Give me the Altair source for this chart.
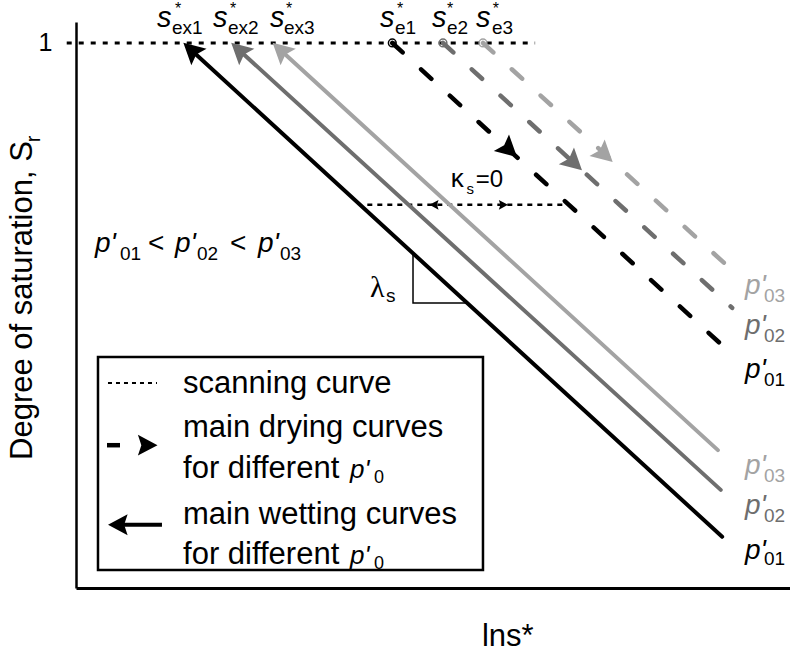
import altair as alt
import pandas as pd

BLACK, DARK, LIGHT = "#000000", "#6e6e6e", "#a3a3a3"
SERIES = ["p01", "p02", "p03"]
SERIES_COLORS = [BLACK, DARK, LIGHT]
FONT = "Liberation Sans"
ARROW = "M0,-1L0.85,0.6L0,0.32L-0.85,0.6Z"

# ---- main wetting curves (solid, arrow pointing to S=1) ----
wet_head_x = [1.64, 2.31, 2.89]
wet_head_s = [0.984, 0.984, 0.984]
wet_end_x = [9.05, 9.03, 8.99]
wet_end_s = [0.094, 0.180, 0.253]

# ---- main drying curves (dashed) ----
dry_start_x = [4.43, 5.14, 5.70]
dry_start_s = [1.0, 1.0, 1.0]
dry_end_x = [9.17, 9.19, 9.29]
dry_end_s = [0.431, 0.514, 0.571]
dry_head_x = [6.04, 6.95, 7.38]
dry_head_s = [0.807, 0.783, 0.798]

# ---- scanning curves ----
scan_id = ["top", "top", "kappa", "kappa"]
scan_x = [-0.13, 6.43, 4.08, 6.88]
scan_s = [1.0, 1.0, 0.703, 0.703]
kap_x = [5.03, 5.97]
kap_s = [0.703, 0.703]
kap_ang = [270, 90]

# ---- lambda triangle ----
tri_x = [4.72, 4.72, 5.476]
tri_s = [0.613, 0.523, 0.523]

# ---- legend ----
box_x = [0.308, 5.700]
box_s = [0.033, 0.424]
leg_scan_x = [0.448, 1.134]
leg_scan_s = [0.376, 0.376]
leg_dry_x = [0.434, 0.616]
leg_dry_s = [0.262, 0.262]
leg_wet_x = [0.62, 1.204]
leg_wet_s = [0.116, 0.116]
leg_head_x = [0.97, 0.62]
leg_head_s = [0.262, 0.116]
leg_head_ang = [90, 270]
leg_text = ["scanning curve", "main drying curves", "for different ",
            "main wetting curves", "for different "]
leg_text_s = [0.358, 0.277, 0.202, 0.117, 0.044]
leg_p_x = [3.838, 3.838]
leg_p_s = [0.202, 0.044]
leg_sub_x = [4.174, 4.174]
leg_sub_s = [0.193, 0.035]

# ---- top labels s*_ex, s*_e ----
s_x = [1.134, 1.919, 2.717, 4.258, 4.986, 5.602]
s_sub = ["ex1", "ex2", "ex3", "e1", "e2", "e3"]
s_sub_x = [1.345, 2.129, 2.913, 4.468, 5.196, 5.826]
s_star_x = [1.429, 2.199, 2.983, 4.538, 5.238, 5.882]

# ---- right-hand p'0 labels ----
right_p_s_dry = [0.385, 0.466, 0.539]
right_sub_s_dry = [0.371, 0.451, 0.525]
right_p_s_wet = [0.053, 0.136, 0.209]
right_sub_s_wet = [0.042, 0.121, 0.195]

# ---- p'01 < p'02 < p'03 ----
ineq_p_x = [0.266, 1.387, 2.549]
ineq_sub_x = [0.616, 1.695, 2.857]
ineq_lt_x = [1.008, 2.157]

XS = alt.Scale(domain=[0, 10], nice=False, zero=False)
YS = alt.Scale(domain=[0, 1.0385], nice=False, zero=False)
XA = alt.Axis(labels=False, ticks=False, grid=False, title=None,
              domainColor="black", domainWidth=3)
YA = alt.Axis(values=[1], labelFontSize=25, labelFont=FONT, labelColor="black",
              ticks=False, tickSize=0, labelPadding=24, grid=False, title=None,
              domainColor="black", domainWidth=2.5)


def enc(**kw):
    return dict(x=alt.X("x:Q", scale=XS, axis=XA), y=alt.Y("s:Q", scale=YS, axis=YA), **kw)


# wetting lines
wet_rows = []
for i in range(3):
    wet_rows.append(dict(id=SERIES[i], o=0, x=wet_head_x[i], s=wet_head_s[i], c=SERIES_COLORS[i]))
    wet_rows.append(dict(id=SERIES[i], o=1, x=wet_end_x[i], s=wet_end_s[i], c=SERIES_COLORS[i]))
wet = alt.Chart(pd.DataFrame(wet_rows)).mark_line(strokeWidth=4, strokeCap="round").encode(
    **enc(detail="id:N", order="o:Q", color=alt.Color("c:N", scale=None)))

dry_rows = []
for i in range(3):
    dry_rows.append(dict(id=SERIES[i], o=0, x=dry_start_x[i], s=dry_start_s[i], c=SERIES_COLORS[i]))
    dry_rows.append(dict(id=SERIES[i], o=1, x=dry_end_x[i], s=dry_end_s[i], c=SERIES_COLORS[i]))
dry = alt.Chart(pd.DataFrame(dry_rows)).mark_line(
    strokeWidth=4.5, strokeCap="round", strokeDash=[14, 25]).encode(
    **enc(detail="id:N", order="o:Q", color=alt.Color("c:N", scale=None)))

scan_df = pd.DataFrame(dict(id=scan_id, x=scan_x, s=scan_s, o=[0, 1, 0, 1]))
scan_top = alt.Chart(scan_df[scan_df.id == "top"]).mark_line(
    strokeWidth=3, strokeDash=[5, 7], color="black").encode(**enc(order="o:Q"))
scan_k = alt.Chart(scan_df[scan_df.id == "kappa"]).mark_line(
    strokeWidth=2.5, strokeDash=[5, 5], color="black").encode(**enc(order="o:Q"))

heads = pd.DataFrame(dict(
    x=wet_head_x + dry_head_x,
    s=wet_head_s + dry_head_s,
    c=SERIES_COLORS + SERIES_COLORS,
    ang=[312.5] * 3 + [132.5] * 3))
head_layer = alt.Chart(heads).mark_point(shape=ARROW, filled=True, opacity=1, size=700,
                                         strokeWidth=0).encode(
    **enc(color=alt.Color("c:N", scale=None), angle=alt.Angle("ang:Q", scale=None)))

circles = alt.Chart(pd.DataFrame(dict(x=dry_start_x, s=dry_start_s, c=SERIES_COLORS))).mark_point(
    shape="circle", filled=False, size=60, strokeWidth=1.5, opacity=1).encode(
    **enc(color=alt.Color("c:N", scale=None)))

kap_heads = alt.Chart(pd.DataFrame(dict(x=kap_x, s=kap_s, ang=kap_ang))).mark_point(
    shape=ARROW, filled=True, opacity=1, size=130, color="black", strokeWidth=0).encode(
    **enc(angle=alt.Angle("ang:Q", scale=None)))

tri = alt.Chart(pd.DataFrame(dict(x=tri_x, s=tri_s, o=[0, 1, 2]))).mark_line(
    strokeWidth=1.5, color="black").encode(**enc(order="o:Q"))

box = alt.Chart(pd.DataFrame(dict(x=[box_x[0]], x2=[box_x[1]], s=[box_s[0]], s2=[box_s[1]]))).mark_rect(
    fillOpacity=0, stroke="black", strokeWidth=2.5).encode(
    **enc(x2="x2:Q", y2="s2:Q"))

leg_scan = alt.Chart(pd.DataFrame(dict(x=leg_scan_x, s=leg_scan_s, o=[0, 1]))).mark_line(
    strokeWidth=2, strokeDash=[4, 4], color="black").encode(**enc(order="o:Q"))
leg_dry = alt.Chart(pd.DataFrame(dict(x=leg_dry_x, s=leg_dry_s, o=[0, 1]))).mark_line(
    strokeWidth=4.5, color="black").encode(**enc(order="o:Q"))
leg_wet = alt.Chart(pd.DataFrame(dict(x=leg_wet_x, s=leg_wet_s, o=[0, 1]))).mark_line(
    strokeWidth=4, color="black").encode(**enc(order="o:Q"))
leg_heads = alt.Chart(pd.DataFrame(dict(x=leg_head_x, s=leg_head_s, ang=leg_head_ang))).mark_point(
    shape=ARROW, filled=True, opacity=1, size=600, color="black", strokeWidth=0).encode(
    **enc(angle=alt.Angle("ang:Q", scale=None)))


def text_layer(xs, ss, texts, size, colors=None, italic=False, font=FONT, align="left", angle=0):
    n = len(xs)
    if colors is None:
        colors = [BLACK] * n
    df = pd.DataFrame(dict(x=xs, s=ss, t=texts, c=colors))
    kw = dict(align=align, baseline="alphabetic", font=font, fontSize=size)
    if italic:
        kw["fontStyle"] = "italic"
    if angle:
        kw["angle"] = angle
    return alt.Chart(df).mark_text(**kw).encode(
        **enc(text="t:N", color=alt.Color("c:N", scale=None)))


texts = [
    # top labels
    text_layer(s_x, [1.029] * 6, ["s"] * 6, 29, italic=True),
    text_layer(s_sub_x, [1.0165] * 6, s_sub, 19),
    text_layer(s_star_x, [1.053] * 6, ["*"] * 6, 16, align="center"),
    # kappa
    text_layer([5.25], [0.736], ["κ"], 26),
    text_layer([5.47], [0.723], ["s"], 15),
    text_layer([5.60], [0.736], ["=0"], 24),
    # lambda
    text_layer([4.118], [0.534], ["λ"], 30, font="Liberation Serif"),
    text_layer([4.34], [0.525], ["s"], 19),
    # inequality
    text_layer(ineq_p_x, [0.6165] * 3, ["p'"] * 3, 28, italic=True),
    text_layer(ineq_sub_x, [0.602] * 3, ["01", "02", "03"], 19),
    text_layer(ineq_lt_x, [0.6165] * 2, ["<", "<"], 28),
    # right labels
    text_layer([9.37] * 3, right_p_s_dry, ["p'"] * 3, 28, colors=SERIES_COLORS, italic=True),
    text_layer([9.636] * 3, right_sub_s_dry, ["01", "02", "03"], 19, colors=SERIES_COLORS),
    text_layer([9.37] * 3, right_p_s_wet, ["p'"] * 3, 28, colors=SERIES_COLORS, italic=True),
    text_layer([9.636] * 3, right_sub_s_wet, ["01", "02", "03"], 19, colors=SERIES_COLORS),
    # legend
    text_layer([1.499] * 5, leg_text_s, leg_text, 31),
    text_layer(leg_p_x, leg_p_s, ["p'"] * 2, 26, italic=True),
    text_layer(leg_sub_x, leg_sub_s, ["0", "0"], 18),
    # axis titles
    text_layer([-0.616], [0.235], ["Degree of saturation,  S"], 31, angle=270),
    text_layer([-0.50], [0.818], ["r"], 20, angle=270),
    text_layer([5.686], [-0.106], ["lns*"], 31),
]

chart = alt.layer(
    scan_top, scan_k, box, tri, wet, dry, head_layer, circles, kap_heads,
    leg_scan, leg_dry, leg_wet, leg_heads, *texts
).properties(
    width=714, height=566,
    autosize=alt.AutoSizeParams(type="none"),
    padding={"left": 76, "top": 22, "right": 0, "bottom": 67},
).configure_view(stroke=None)

chart.save("out.html", embed_options={"renderer": "svg", "actions": False})
